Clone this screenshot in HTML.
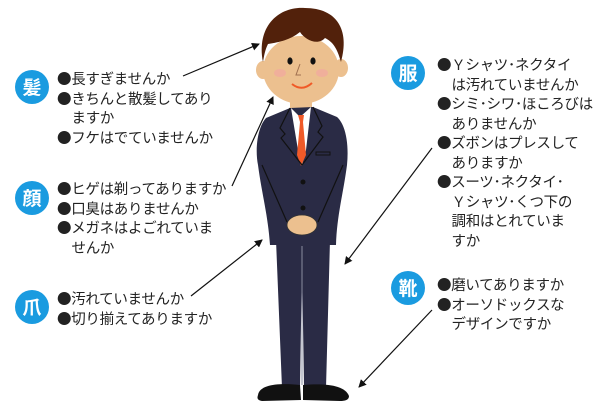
<!DOCTYPE html>
<html><head><meta charset="utf-8"><style>
body{margin:0;background:#fff;width:600px;height:419px;overflow:hidden;position:relative;font-family:"Liberation Sans","Noto Sans CJK JP",sans-serif;}
.c{position:absolute;width:34px;height:34px;border-radius:50%;background:#1a9be0;color:#fff;font-size:19px;line-height:34px;text-align:center;font-weight:bold;font-family:"Noto Sans CJK JP",sans-serif;}
.t{position:absolute;font-size:14.5px;line-height:19.5px;color:#222;white-space:nowrap;font-family:"Noto Sans CJK JP",sans-serif;letter-spacing:-0.3px;}
.t div{padding-left:14.5px;text-indent:-14.5px;}
</style></head><body>
<svg width="600" height="419" style="position:absolute;left:0;top:0">
<defs><marker id="a" markerWidth="8" markerHeight="8" refX="7" refY="4" orient="auto" markerUnits="userSpaceOnUse"><path d="M0,0 L8,4 L0,8z" fill="#111"/></marker></defs>
<g stroke="#111" stroke-width="1.2" marker-end="url(#a)">
<line x1="183" y1="76" x2="259" y2="44"/>
<line x1="232" y1="186" x2="273" y2="97"/>
<line x1="191" y1="296" x2="262" y2="240"/>
<line x1="432" y1="148" x2="345" y2="264"/>
<line x1="432" y1="310" x2="359" y2="387"/>
</g>
<ellipse cx="263" cy="70" rx="7" ry="9" fill="#ecc08f"/>
<ellipse cx="341" cy="68" rx="7" ry="9" fill="#ecc08f"/>
<rect x="290" y="95" width="22" height="18" fill="#ecc08f"/>
<ellipse cx="301" cy="70" rx="38" ry="34" fill="#ecc08f"/>
<path d="M263,62 C256,25 280,6 305,8 C337,8 350,30 341,62 C337,48 333,42 325,38 C318,46 305,40 300,32 C290,40 280,42 268,44 C265,50 264,56 263,62z" fill="#52210b"/>
<ellipse cx="290" cy="61" rx="2.6" ry="3.6" fill="#111"/>
<ellipse cx="313" cy="61" rx="2.6" ry="3.6" fill="#111"/>
<ellipse cx="280" cy="73" rx="6" ry="4" fill="#f2a8a0" opacity=".7"/>
<ellipse cx="322" cy="73" rx="6" ry="4" fill="#f2a8a0" opacity=".7"/>
<path d="M292,84 Q302,92 312,83" stroke="#f05a28" stroke-width="2" fill="none"/>
<path d="M300,64 L296,75 L301,75" stroke="#a07050" fill="none"/>
<path d="M276,240 L330,240 L326,388 L304,388 L302,260 L300,388 L282,388z" fill="#2a2b45"/>
<line x1="302" y1="246" x2="302" y2="385" stroke="#8a8ca0" stroke-width="1"/>
<path d="M258,395 C260,384 280,383 300,385 L301,400 L262,401 C257,400 257,398 258,395z" fill="#111"/>
<path d="M303,385 C325,383 345,385 349,396 C349,400 345,401 340,401 L303,400z" fill="#111"/>
<path d="M290,108 L266,118 C257,128 255,150 258,165 C262,195 268,215 270,245 L336,245 C337,215 343,195 347,165 C349,145 346,125 337,117 L313,107z" fill="#2a2b45"/>
<path d="M291,108 L300,117 L311,107 L306,150 L302,165 L298,150z" fill="#fff"/>
<path d="M298,115 L304,115 L303,122 L306,155 L301,166 L297,155 L300,122z" fill="#f05a28"/>
<path d="M290,108 L280,128 L285,134 L281,138 L302,165 M313,107 L322,126 L318,132 L323,137 L302,165" stroke="#111" stroke-width="1.2" fill="none"/>
<rect x="316" y="152" width="14" height="3" fill="none" stroke="#111" stroke-width="1"/>
<circle cx="303" cy="182" r="2.5" fill="#111"/><circle cx="303" cy="208" r="2.5" fill="#111"/>
<path d="M262,165 L287,222 M343,165 L318,222" stroke="#111" stroke-width="1.2"/>
<ellipse cx="302" cy="225" rx="15" ry="10" fill="#ecc08f" stroke="#333" stroke-width=".8"/>
</svg>
<div class="c" style="left:15px;top:70px">髪</div>
<div class="c" style="left:15px;top:181px">顔</div>
<div class="c" style="left:15px;top:290px">爪</div>
<div class="c" style="left:391px;top:56px">服</div>
<div class="c" style="left:391px;top:271px">靴</div>
<div class="t" style="left:57px;top:69px"><div>●長すぎませんか</div><div>●きちんと散髪してあり<br>ますか</div><div>●フケはでていませんか</div></div>
<div class="t" style="left:57px;top:179px"><div>●ヒゲは剃ってありますか</div><div>●口臭はありませんか</div><div>●メガネはよごれていま<br>せんか</div></div>
<div class="t" style="left:57px;top:289px"><div>●汚れていませんか</div><div>●切り揃えてありますか</div></div>
<div class="t" style="left:437px;top:55px"><div>●Ｙシャツ･ネクタイ<br>は汚れていませんか</div><div>●シミ･シワ･ほころびは<br>ありませんか</div><div>●ズボンはプレスして<br>ありますか</div><div>●スーツ･ネクタイ･<br>Ｙシャツ･くつ下の<br>調和はとれていま<br>すか</div></div>
<div class="t" style="left:437px;top:275px"><div>●磨いてありますか</div><div>●オーソドックスな<br>デザインですか</div></div>
</body></html>
